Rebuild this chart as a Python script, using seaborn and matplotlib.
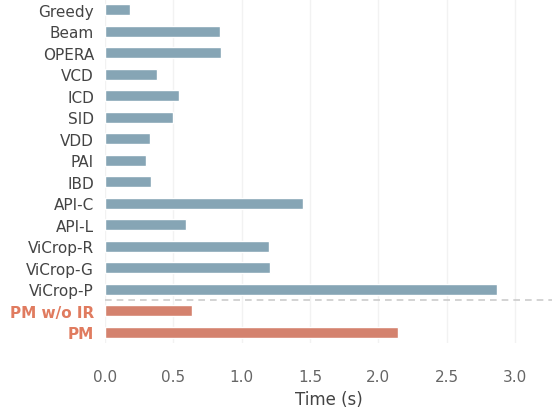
import matplotlib; matplotlib.use('Agg')
import pandas as pd
import numpy as np
import matplotlib.pyplot as plt
import seaborn as sns

methods = ['Greedy', 'Beam', 'OPERA', 'VCD', 'ICD', 'SID', 'VDD', 'PAI', 'IBD',
           'API-C', 'API-L', 'ViCrop-R', 'ViCrop-G', 'ViCrop-P', 'PM w/o IR', 'PM']
times = [0.18, 0.84, 0.85, 0.38, 0.54, 0.50, 0.33, 0.30, 0.34,
         1.45, 0.59, 1.20, 1.21, 2.87, 0.64, 2.14]
group = ['base'] * 14 + ['ours'] * 2

df = pd.DataFrame({'method': methods, 'time': times, 'group': group})

sns.set_style('whitegrid', {'grid.color': '#f2f2f2', 'axes.edgecolor': 'white'})
plt.rcParams['font.family'] = ['DejaVu Sans']

fig = plt.figure(figsize=(5.52, 4.14), dpi=100)
ax = fig.add_axes([105 / 552, 1 - 344 / 414, 1 - 105 / 552, 344 / 414])

sns.barplot(data=df, y='method', x='time', hue='group', orient='h',
            palette={'base': '#86a5b5', 'ours': '#d4826e'},
            width=0.5, dodge=False, legend=False, ax=ax, saturation=1)

# separator between baselines and ours
ax.axhline(13.5, color='#cccccc', linestyle='--', linewidth=1.2, dashes=(4, 3))

ax.set_xlim(0, 3.27)
ax.set_ylim(15.5, -0.5)
ax.set_xticks(np.arange(0, 3.01, 0.5))
ax.set_xticklabels([f'{v:.1f}' for v in np.arange(0, 3.01, 0.5)])
ax.grid(axis='y', visible=False)
ax.grid(axis='x', color='#f2f2f2', linewidth=1)
for s in ax.spines.values():
    s.set_visible(False)

ax.set_ylabel('')
ax.set_xlabel('Time (s)', fontsize=12, color='#444444', labelpad=4)
ax.tick_params(axis='x', labelsize=11, labelcolor='#666666', length=0, pad=19)
ax.tick_params(axis='y', labelsize=11, labelcolor='#444444', length=0, pad=8)

for lbl in ax.get_yticklabels():
    if lbl.get_text() in ('PM w/o IR', 'PM'):
        lbl.set_color('#e07b5f')
        lbl.set_fontweight('bold')

fig.savefig('out.png', dpi=100)
plt.close()
